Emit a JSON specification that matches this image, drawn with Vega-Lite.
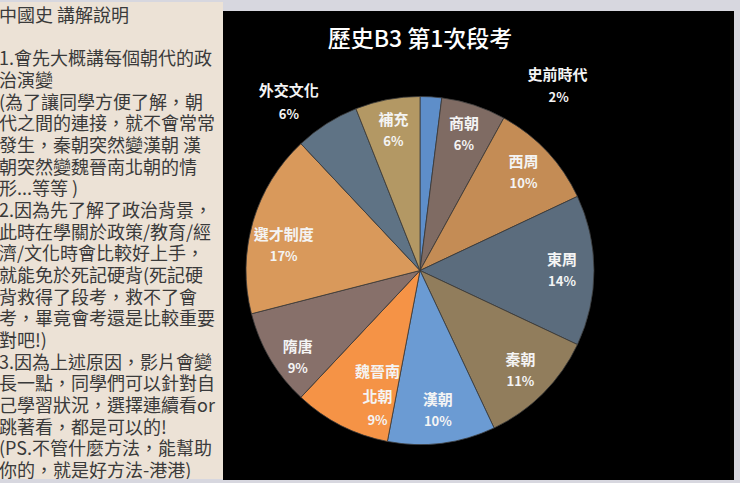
{
  "$schema": "https://vega.github.io/schema/vega-lite/v6.json",
  "background": "#d7d7df",
  "padding": {"left": 0, "top": 0, "right": 6, "bottom": 6},
  "autosize": {"type": "pad"},
  "spacing": 0,
  "config": {"view": {"stroke": null}, "concat": {"spacing": 0}, "font": "Noto Sans CJK TC"},
  "datasets": {
    "slices": [
      {"idx": 1, "name": "史前時代", "share": 0.02},
      {"idx": 2, "name": "商朝", "share": 0.06},
      {"idx": 3, "name": "西周", "share": 0.10},
      {"idx": 4, "name": "東周", "share": 0.14},
      {"idx": 5, "name": "秦朝", "share": 0.11},
      {"idx": 6, "name": "漢朝", "share": 0.10},
      {"idx": 7, "name": "魏晉南北朝", "share": 0.09},
      {"idx": 8, "name": "隋唐", "share": 0.09},
      {"idx": 9, "name": "選才制度", "share": 0.17},
      {"idx": 10, "name": "外交文化", "share": 0.06},
      {"idx": 11, "name": "補充", "share": 0.06}
    ],
    "notes": [
      {"line": 0, "text": "中國史 講解說明"},
      {"line": 2, "text": "1.會先大概講每個朝代的政"},
      {"line": 3, "text": "治演變"},
      {"line": 4, "text": "(為了讓同學方便了解，朝"},
      {"line": 5, "text": "代之間的連接，就不會常常"},
      {"line": 6, "text": "發生，秦朝突然變漢朝 漢"},
      {"line": 7, "text": "朝突然變魏晉南北朝的情"},
      {"line": 8, "text": "形...等等 )"},
      {"line": 9, "text": "2.因為先了解了政治背景，"},
      {"line": 10, "text": "此時在學關於政策/教育/經"},
      {"line": 11, "text": "濟/文化時會比較好上手，"},
      {"line": 12, "text": "就能免於死記硬背(死記硬"},
      {"line": 13, "text": "背救得了段考，救不了會"},
      {"line": 14, "text": "考，畢竟會考還是比較重要"},
      {"line": 15, "text": "對吧!)"},
      {"line": 16, "text": "3.因為上述原因，影片會變"},
      {"line": 17, "text": "長一點，同學們可以針對自"},
      {"line": 18, "text": "己學習狀況，選擇連續看or"},
      {"line": 19, "text": "跳著看，都是可以的!"},
      {"line": 20, "text": "(PS.不管什麼方法，能幫助"},
      {"line": 21, "text": "你的，就是好方法-港港)"}
    ],
    "blank": [{}]
  },
  "hconcat": [
    {
      "width": 223,
      "height": 477,
      "view": {"fill": "#ece2d6"},
      "data": {"name": "notes"},
      "mark": {"type": "text", "align": "left", "baseline": "middle", "fontSize": 18, "color": "#3a3a3a", "dy": 4, "dx": -1, "clip": true},
      "encoding": {
        "x": {"datum": 0, "type": "quantitative", "scale": {"domain": [0, 1]}, "axis": null},
        "y": {"field": "line", "type": "quantitative", "scale": {"domain": [-0.5, 21.5], "reverse": true, "nice": false, "zero": false}, "axis": null},
        "text": {"field": "text", "type": "nominal"}
      }
    },
    {
      "spacing": 0,
      "vconcat": [
        {"width": 394, "height": 8, "data": {"name": "blank"}, "mark": {"type": "text", "text": ""}},
        {"width": 394, "height": 50, "view": {"fill": "#000000"}, "data": {"name": "blank"},
         "mark": {"type": "text", "text": "歷史B3 第1次段考", "fontSize": 23, "fontWeight": 500, "color": "#ffffff", "dy": 4, "clip": true}},
        {
          "width": 394,
          "height": 419,
          "view": {"fill": "#000000"},
          "data": {"name": "slices"},
          "encoding": {
            "theta": {"field": "share", "type": "quantitative", "stack": true},
            "order": {"field": "idx", "type": "quantitative"}
          },
          "layer": [
            {
              "mark": {"type": "arc", "outerRadius": 174, "stroke": "#3a3a3a", "strokeWidth": 0.8},
              "encoding": {
                "color": {
                  "field": "name", "type": "nominal", "legend": null,
                  "scale": {
                    "domain": ["史前時代", "商朝", "西周", "東周", "秦朝", "漢朝", "魏晉南北朝", "隋唐", "選才制度", "外交文化", "補充"],
                    "range": ["#5e8ec9", "#7f6b63", "#c48c55", "#5b6c7d", "#917d5c", "#6b9bd3", "#f59346", "#87706a", "#d9995b", "#5f7385", "#b39864"]
                  }
                }
              }
            },
            {
              "mark": {"type": "text", "radius": 142, "dy": -11, "fontSize": 15, "fontWeight": "bold", "color": "#f4f4f4", "clip": true},
              "encoding": {
                "detail": {"field": "name", "type": "nominal"},
                "text": {"condition": {"test": "indexof(['史前時代','外交文化','魏晉南北朝','隋唐','選才制度'], datum.name) >= 0", "value": ""}, "field": "name", "type": "nominal"}
              }
            },
            {
              "mark": {"type": "text", "radius": 142, "dy": 11, "fontSize": 13, "fontWeight": "bold", "color": "#f4f4f4", "clip": true},
              "encoding": {
                "detail": {"field": "name", "type": "nominal"},
                "text": {"condition": {"test": "indexof(['史前時代','外交文化','魏晉南北朝','隋唐','選才制度'], datum.name) >= 0", "value": ""}, "field": "share", "type": "quantitative", "format": ".0%"}
              }
            },
            {
              "mark": {"type": "text", "radius": 142, "dy": 4, "fontSize": 15, "fontWeight": "bold", "color": "#f4f4f4", "clip": true},
              "encoding": {
                "detail": {"field": "name", "type": "nominal"},
                "text": {"condition": {"test": "indexof(['隋唐','選才制度'], datum.name) < 0", "value": ""}, "field": "name", "type": "nominal"}
              }
            },
            {
              "mark": {"type": "text", "radius": 142, "dy": 26, "fontSize": 13, "fontWeight": "bold", "color": "#f4f4f4", "clip": true},
              "encoding": {
                "detail": {"field": "name", "type": "nominal"},
                "text": {"condition": {"test": "indexof(['隋唐','選才制度'], datum.name) < 0", "value": ""}, "field": "share", "type": "quantitative", "format": ".0%"}
              }
            },
            {
              "mark": {"type": "text", "radius": 142, "dx": 22, "dy": -25, "lineHeight": 25, "fontSize": 15, "fontWeight": "bold", "color": "#f4f4f4", "clip": true},
              "encoding": {
                "detail": {"field": "name", "type": "nominal"},
                "text": {"condition": {"test": "datum.name === '魏晉南北朝'", "value": ["魏晉南", "北朝"]}, "value": ""}
              }
            },
            {
              "mark": {"type": "text", "radius": 142, "dx": 22, "dy": 24, "fontSize": 13, "fontWeight": "bold", "color": "#f4f4f4", "clip": true},
              "encoding": {
                "detail": {"field": "name", "type": "nominal"},
                "text": {"condition": {"test": "datum.name !== '魏晉南北朝'", "value": ""}, "field": "share", "type": "quantitative", "format": ".0%"}
              }
            },
            {
              "mark": {"type": "text", "radius": 213, "dx": -17, "dy": 0, "fontSize": 15, "fontWeight": "bold", "color": "#f4f4f4", "clip": true},
              "encoding": {
                "detail": {"field": "name", "type": "nominal"},
                "text": {"condition": {"test": "datum.name === '外交文化'", "field": "name", "type": "nominal"}, "value": ""}
              }
            },
            {
              "mark": {"type": "text", "radius": 213, "dx": -17, "dy": 24, "fontSize": 13, "fontWeight": "bold", "color": "#f4f4f4", "clip": true},
              "encoding": {
                "detail": {"field": "name", "type": "nominal"},
                "text": {"condition": {"test": "datum.name !== '外交文化'", "value": ""}, "field": "share", "type": "quantitative", "format": ".0%"}
              }
            },
            {
              "mark": {"type": "text", "radius": 200, "dx": 125, "dy": 4, "fontSize": 15, "fontWeight": "bold", "color": "#f4f4f4", "clip": true},
              "encoding": {
                "detail": {"field": "name", "type": "nominal"},
                "text": {"condition": {"test": "datum.name === '史前時代'", "field": "name", "type": "nominal"}, "value": ""}
              }
            },
            {
              "mark": {"type": "text", "radius": 200, "dx": 126, "dy": 27, "fontSize": 13, "fontWeight": "bold", "color": "#f4f4f4", "clip": true},
              "encoding": {
                "detail": {"field": "name", "type": "nominal"},
                "text": {"condition": {"test": "datum.name !== '史前時代'", "value": ""}, "field": "share", "type": "quantitative", "format": ".0%"}
              }
            }
          ]
        }
      ]
    },
    {
      "spacing": 0,
      "vconcat": [
        {"width": 117, "height": 8, "data": {"name": "blank"}, "mark": {"type": "text", "text": ""}},
        {"width": 117, "height": 469, "view": {"fill": "#000000"}, "data": {"name": "blank"}, "mark": {"type": "text", "text": ""}}
      ]
    }
  ]
}
